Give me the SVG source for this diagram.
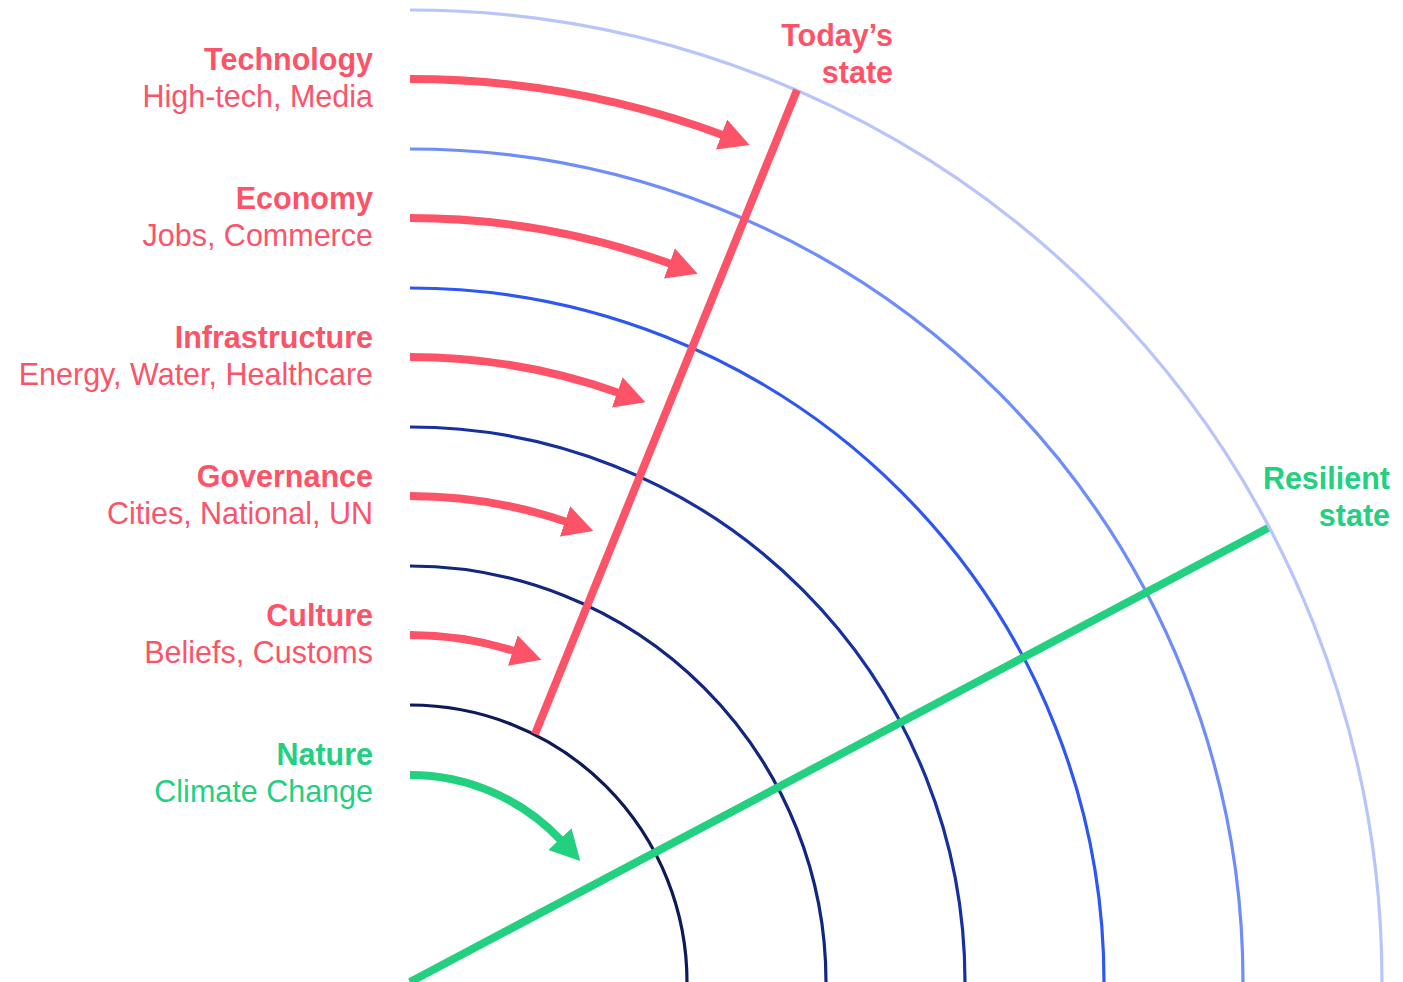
<svg xmlns="http://www.w3.org/2000/svg" width="1403" height="982" viewBox="0 0 1403 982">
<style>
.ring{fill:none;stroke-width:3.2}
.arr{fill:none;stroke-width:8}
.red{stroke:#fd5368}
.grn{stroke:#22d07f}
.t{font-family:"Liberation Sans",Arial,sans-serif;font-size:30.5px;text-anchor:end}
.b{font-weight:bold}
.tr{fill:#fd5368}
.tg{fill:#22d07f}
</style>
<defs>
<marker id="ahR" markerUnits="userSpaceOnUse" markerWidth="30" markerHeight="32" viewBox="0 0 30 32" refX="2" refY="16" orient="auto"><path d="M0,0 L30,16 L0,32 z" fill="#fd5368"/></marker>
<marker id="ahG" markerUnits="userSpaceOnUse" markerWidth="30" markerHeight="32" viewBox="0 0 30 32" refX="2" refY="16" orient="auto"><path d="M0,0 L30,16 L0,32 z" fill="#22d07f"/></marker>
</defs>
<rect width="1403" height="982" fill="#ffffff"/>
<g id="rings">
<path class="ring" stroke="#b7c5fb" d="M410,10 A972,972 0 0 1 1382,982"/>
<path class="ring" stroke="#6e8cfa" d="M410,149 A833,833 0 0 1 1243,982"/>
<path class="ring" stroke="#2e56f5" d="M410,288 A694,694 0 0 1 1104,982"/>
<path class="ring" stroke="#16309f" d="M410,427 A555,555 0 0 1 965,982"/>
<path class="ring" stroke="#12267f" d="M410,566 A416,416 0 0 1 826,982"/>
<path class="ring" stroke="#0d1a58" d="M410,705 A277,277 0 0 1 687,982"/>
</g>
<g id="connectors">
<path class="arr red" marker-end="url(#ahR)" d="M410,79 A903,903 0 0 1 723.4,135.2"/>
<path class="arr red" marker-end="url(#ahR)" d="M410,218 A764,764 0 0 1 671.3,264.1"/>
<path class="arr red" marker-end="url(#ahR)" d="M410,357 A625,625 0 0 1 619.1,393.0"/>
<path class="arr red" marker-end="url(#ahR)" d="M410,496 A486,486 0 0 1 566.9,522.0"/>
<path class="arr red" marker-end="url(#ahR)" d="M410,635 A347,347 0 0 1 514.7,651.2"/>
<path class="arr grn" marker-end="url(#ahG)" d="M410,775 A207,207 0 0 1 561.2,840.6"/>
<line class="arr red" x1="535" y1="734" x2="797" y2="90"/>
<line class="arr grn" x1="410" y1="982" x2="1268" y2="528"/>
</g>
<g id="technology"><text class="t b tr" x="373" y="70">Technology</text><text class="t tr" x="373" y="107">High-tech, Media</text></g>
<g id="economy"><text class="t b tr" x="373" y="209">Economy</text><text class="t tr" x="373" y="246">Jobs, Commerce</text></g>
<g id="infrastructure"><text class="t b tr" x="373" y="348">Infrastructure</text><text class="t tr" x="373" y="385">Energy, Water, Healthcare</text></g>
<g id="governance"><text class="t b tr" x="373" y="487">Governance</text><text class="t tr" x="373" y="524">Cities, National, UN</text></g>
<g id="culture"><text class="t b tr" x="373" y="626">Culture</text><text class="t tr" x="373" y="663">Beliefs, Customs</text></g>
<g id="nature"><text class="t b tg" x="373" y="765">Nature</text><text class="t tg" x="373" y="802">Climate Change</text></g>
<g id="todays-state"><text class="t b tr" x="893" y="46">Today’s</text><text class="t b tr" x="893" y="83">state</text></g>
<g id="resilient-state"><text class="t b tg" x="1390" y="489">Resilient</text><text class="t b tg" x="1390" y="526">state</text></g>
</svg>
